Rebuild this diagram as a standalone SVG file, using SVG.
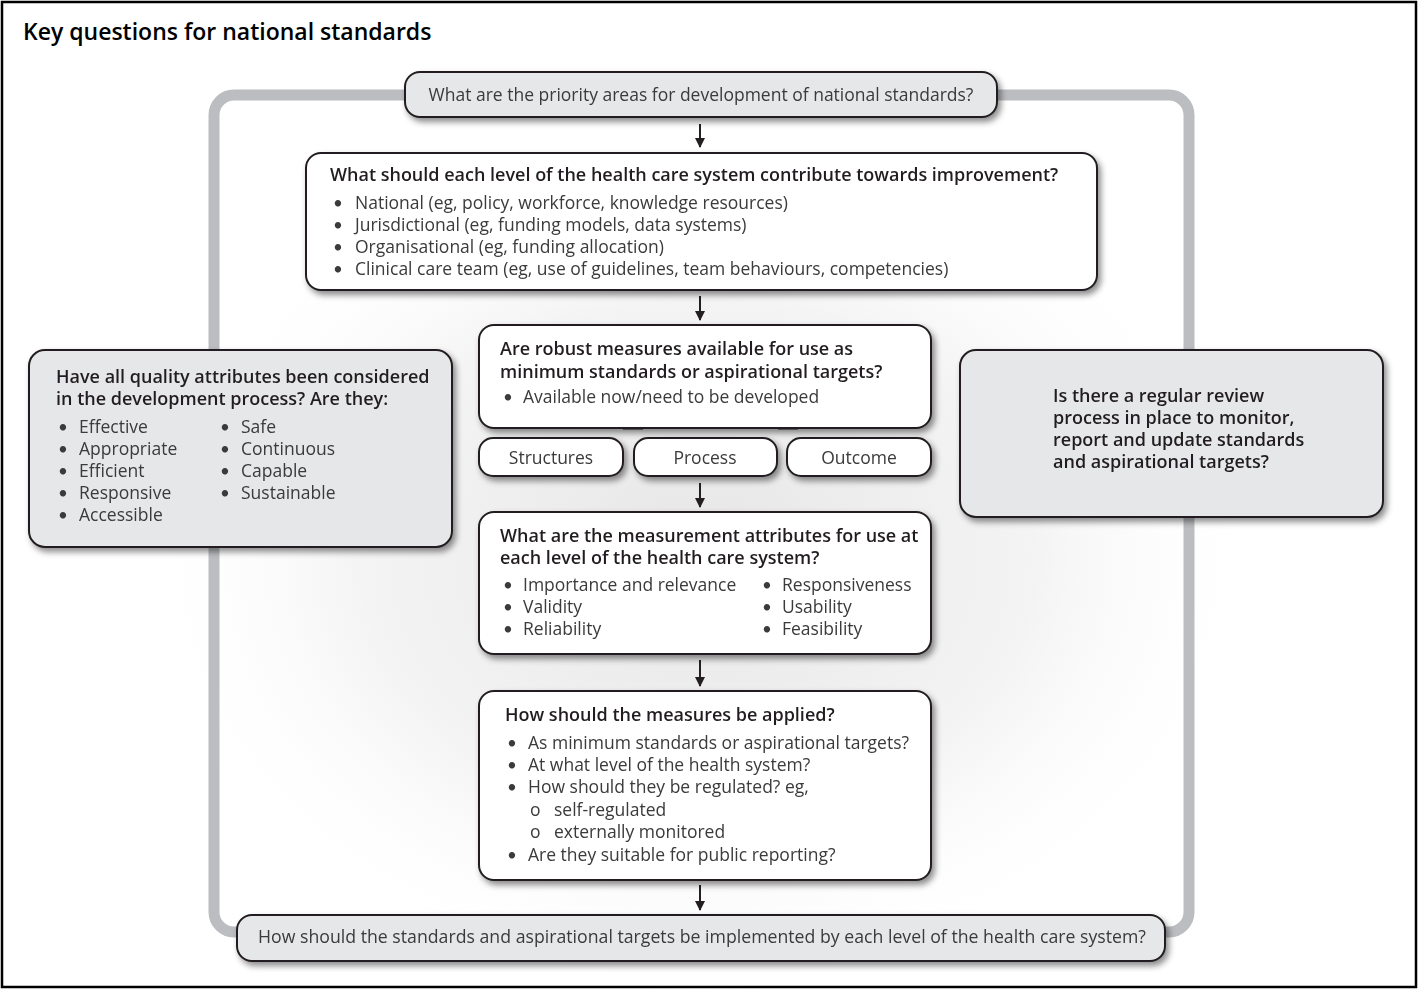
<svg xmlns="http://www.w3.org/2000/svg" width="1419" height="990" viewBox="0 0 1419 990">
<defs>
<style>
.t{font-family:"Open Sans",Lato,"Liberation Sans",sans-serif;fill:#3a3a3a;font-size:17.5px}
.b{font-family:"Open Sans",Lato,"Liberation Sans",sans-serif;fill:#231f20;font-size:18px;font-weight:600}
.bu{font-family:Lato,"Liberation Sans",sans-serif;font-size:17px}
.wbox{fill:#fff;stroke:#231f20;stroke-width:2}
.gbox{fill:#e6e7e8;stroke:#231f20;stroke-width:2}
.arr{stroke:#231f20;stroke-width:2;fill:none;marker-end:url(#ah)}
</style>
<marker id="ah" viewBox="0 0 10 10" refX="9" refY="5" markerWidth="5" markerHeight="5" orient="auto" markerUnits="strokeWidth">
<path d="M0,0 L10,5 L0,10 z" fill="#231f20"/>
</marker>
<filter id="sh" x="-10%" y="-20%" width="125%" height="150%">
<feDropShadow dx="3" dy="4" stdDeviation="3" flood-color="#000" flood-opacity="0.45"/>
</filter>
<radialGradient id="bg" cx="0.5" cy="0.5" r="0.5">
<stop offset="0" stop-color="#e2e2e2" stop-opacity="0.9"/>
<stop offset="0.6" stop-color="#ececec" stop-opacity="0.6"/>
<stop offset="1" stop-color="#ffffff" stop-opacity="0"/>
</radialGradient>
</defs>
<rect x="0" y="0" width="1419" height="990" fill="#fff"/>
<rect x="2" y="2" width="1414" height="985" fill="none" stroke="#000" stroke-width="2.5"/>
<text x="23" y="40" font-family="'Open Sans',Lato,'Liberation Sans',sans-serif" font-size="23" font-weight="600" fill="#000">Key questions for national standards</text>
<ellipse cx="700" cy="560" rx="560" ry="430" fill="url(#bg)"/>
<g id="loop">
<rect x="214" y="95" width="975" height="837" rx="20" fill="none" stroke="#bcbdc0" stroke-width="11"/>
</g>
<g id="connectors">
<line class="arr" x1="700" y1="124" x2="700" y2="147"/>
<line class="arr" x1="700" y1="296" x2="700" y2="320"/>
<line class="arr" x1="700" y1="483" x2="700" y2="507"/>
<line class="arr" x1="700" y1="660" x2="700" y2="686"/>
<line class="arr" x1="700" y1="885" x2="700" y2="910"/>
<line x1="623" y1="428" x2="643" y2="428" stroke="#231f20" stroke-width="3"/>
<line x1="778" y1="428" x2="798" y2="428" stroke="#231f20" stroke-width="3"/>
</g>
<g id="top" filter="url(#sh)">
<rect class="gbox" x="405" y="72" width="592" height="45" rx="15"/>
<text class="t" x="701" y="101" text-anchor="middle">What are the priority areas for development of national standards?</text>
</g>
<g id="levels" filter="url(#sh)">
<rect class="wbox" x="306" y="153" width="791" height="137" rx="15"/>
<text class="b" x="330" y="181">What should each level of the health care system contribute towards improvement?</text>
<text class="t"><tspan class="bu" x="333" y="209">•</tspan><tspan x="355" y="209">National (eg, policy, workforce, knowledge resources)</tspan><tspan class="bu" x="333" y="231">•</tspan><tspan x="355" y="231">Jurisdictional (eg, funding models, data systems)</tspan><tspan class="bu" x="333" y="253">•</tspan><tspan x="355" y="253">Organisational (eg, funding allocation)</tspan><tspan class="bu" x="333" y="275">•</tspan><tspan x="355" y="275">Clinical care team (eg, use of guidelines, team behaviours, competencies)</tspan></text>
</g>
<g id="robust" filter="url(#sh)">
<rect class="wbox" x="479" y="325" width="452" height="103" rx="15"/>
<text class="b"><tspan x="500" y="355">Are robust measures available for use as</tspan><tspan x="500" y="378">minimum standards or aspirational targets?</tspan></text>
<text class="t"><tspan class="bu" x="503" y="403">•</tspan><tspan x="523" y="403">Available now/need to be developed</tspan></text>
</g>
<g id="structures" filter="url(#sh)">
<rect class="wbox" x="479" y="438" width="144" height="38" rx="14"/>
<text class="t" x="551" y="464" text-anchor="middle">Structures</text>
</g>
<g id="process" filter="url(#sh)">
<rect class="wbox" x="634" y="438" width="143" height="38" rx="14"/>
<text class="t" x="705" y="464" text-anchor="middle">Process</text>
</g>
<g id="outcome" filter="url(#sh)">
<rect class="wbox" x="787" y="438" width="144" height="38" rx="14"/>
<text class="t" x="859" y="464" text-anchor="middle">Outcome</text>
</g>
<g id="attributes" filter="url(#sh)">
<rect class="wbox" x="479" y="512" width="452" height="142" rx="15"/>
<text class="b"><tspan x="500" y="542">What are the measurement attributes for use at</tspan><tspan x="500" y="564">each level of the health care system?</tspan></text>
<text class="t"><tspan class="bu" x="503" y="591">•</tspan><tspan x="523" y="591">Importance and relevance</tspan><tspan class="bu" x="503" y="613">•</tspan><tspan x="523" y="613">Validity</tspan><tspan class="bu" x="503" y="635">•</tspan><tspan x="523" y="635">Reliability</tspan><tspan class="bu" x="762" y="591">•</tspan><tspan x="782" y="591">Responsiveness</tspan><tspan class="bu" x="762" y="613">•</tspan><tspan x="782" y="613">Usability</tspan><tspan class="bu" x="762" y="635">•</tspan><tspan x="782" y="635">Feasibility</tspan></text>
</g>
<g id="applied" filter="url(#sh)">
<rect class="wbox" x="479" y="691" width="452" height="189" rx="15"/>
<text class="b" x="505" y="721">How should the measures be applied?</text>
<text class="t"><tspan class="bu" x="507" y="749">•</tspan><tspan x="528" y="749">As minimum standards or aspirational targets?</tspan><tspan class="bu" x="507" y="771">•</tspan><tspan x="528" y="771">At what level of the health system?</tspan><tspan class="bu" x="507" y="793">•</tspan><tspan x="528" y="793">How should they be regulated? eg,</tspan><tspan x="530" y="816">o</tspan><tspan x="554" y="816">self-regulated</tspan><tspan x="530" y="838">o</tspan><tspan x="554" y="838">externally monitored</tspan><tspan class="bu" x="507" y="861">•</tspan><tspan x="528" y="861">Are they suitable for public reporting?</tspan></text>
</g>
<g id="quality" filter="url(#sh)">
<rect class="gbox" x="29" y="350" width="423" height="197" rx="16"/>
<text class="b"><tspan x="56" y="383">Have all quality attributes been considered</tspan><tspan x="56" y="405">in the development process? Are they:</tspan></text>
<text class="t"><tspan class="bu" x="58" y="433">•</tspan><tspan x="79" y="433">Effective</tspan><tspan class="bu" x="58" y="455">•</tspan><tspan x="79" y="455">Appropriate</tspan><tspan class="bu" x="58" y="477">•</tspan><tspan x="79" y="477">Efficient</tspan><tspan class="bu" x="58" y="499">•</tspan><tspan x="79" y="499">Responsive</tspan><tspan class="bu" x="58" y="521">•</tspan><tspan x="79" y="521">Accessible</tspan><tspan class="bu" x="220" y="433">•</tspan><tspan x="241" y="433">Safe</tspan><tspan class="bu" x="220" y="455">•</tspan><tspan x="241" y="455">Continuous</tspan><tspan class="bu" x="220" y="477">•</tspan><tspan x="241" y="477">Capable</tspan><tspan class="bu" x="220" y="499">•</tspan><tspan x="241" y="499">Sustainable</tspan></text>
</g>
<g id="review" filter="url(#sh)">
<rect class="gbox" x="960" y="350" width="423" height="167" rx="16"/>
<text class="b"><tspan x="1053" y="402">Is there a regular review</tspan><tspan x="1053" y="424">process in place to monitor,</tspan><tspan x="1053" y="446">report and update standards</tspan><tspan x="1053" y="468">and aspirational targets?</tspan></text>
</g>
<g id="implement" filter="url(#sh)">
<rect class="gbox" x="237" y="915" width="928" height="46" rx="15"/>
<text class="t" x="258" y="943" textLength="888" lengthAdjust="spacingAndGlyphs">How should the standards and aspirational targets be implemented by each level of the health care system?</text>
</g>
</svg>
